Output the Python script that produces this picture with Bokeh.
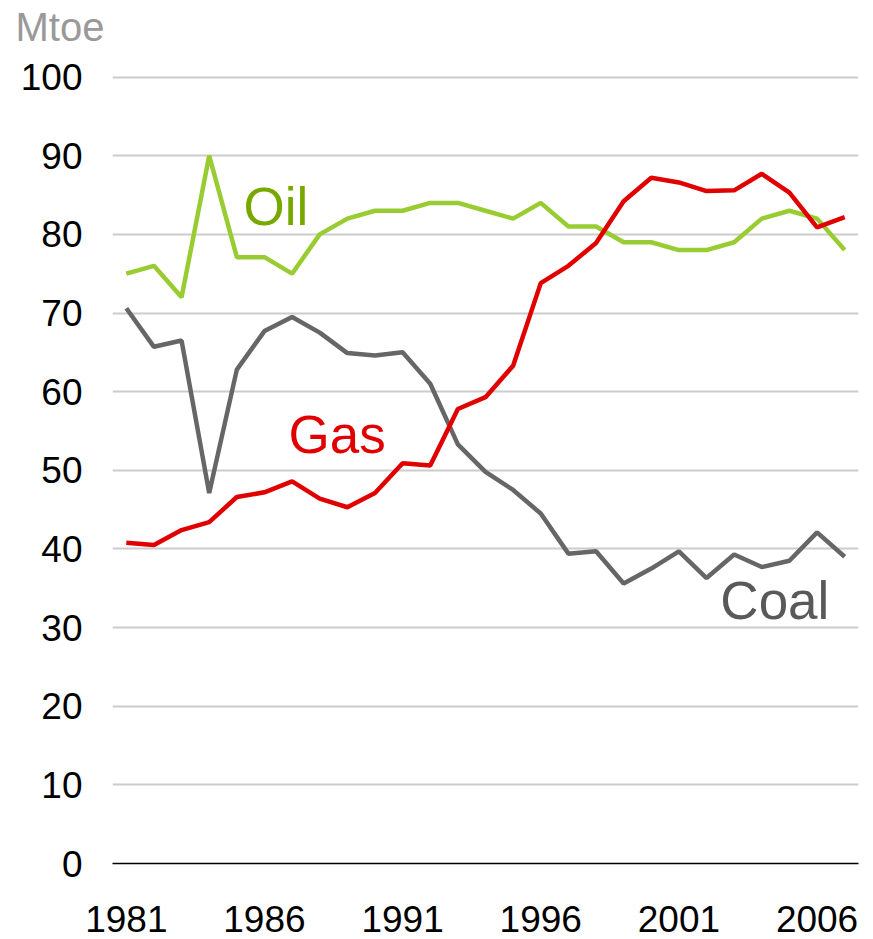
from bokeh.plotting import figure
from bokeh.models import FixedTicker, Label, Range1d, Title
from bokeh.embed import file_html
from bokeh.resources import INLINE

years = list(range(1981, 2008))
oil = [75, 76, 72, 90, 77.1, 77.1, 75, 80, 82, 83, 83, 84, 84, 83, 82, 84, 81, 81,
       79, 79, 78, 78, 79, 82, 83, 82, 78]
gas = [40.8, 40.5, 42.4, 43.4, 46.6, 47.2, 48.6, 46.4, 45.3, 47.1, 50.9, 50.6, 57.8,
       59.3, 63.3, 73.8, 76.0, 78.9, 84.2, 87.2, 86.6, 85.5, 85.6, 87.7, 85.3, 80.9, 82.2]
coal = [70.6, 65.7, 66.5, 47.1, 62.8, 67.7, 69.5, 67.5, 64.9, 64.6, 65.0, 61.0, 53.3,
        49.8, 47.5, 44.5, 39.4, 39.7, 35.6, 37.5, 39.7, 36.3, 39.3, 37.7, 38.5, 42.1, 39.0]
x_ticks = [1981, 1986, 1991, 1996, 2001, 2006]
y_ticks = list(range(0, 101, 10))
unit_label = "Mtoe"

FONT = "Liberation Sans"

p = figure(width=873, height=939, output_backend="svg", toolbar_location=None,
           x_range=Range1d(1980.5, 2007.5), y_range=Range1d(0, 100.2),
           min_border_left=112, min_border_right=15, min_border_top=75, min_border_bottom=76)
p.outline_line_color = None
p.background_fill_color = "white"
p.border_fill_color = "white"
p.title.text = ""

# spacer panel between the frame and the unit title
p.add_layout(Title(text=" ", text_font_size="10px", standoff=14), "above")
p.add_layout(Title(text=unit_label, align="left", vertical_align="bottom", offset=-97,
                   standoff=0, text_font=FONT, text_font_size="40px",
                   text_font_style="normal", text_color="#999999"), "above")

p.xgrid.grid_line_color = None
p.ygrid.grid_line_color = "#cccccc"
p.ygrid.grid_line_width = 2
p.ygrid.ticker = FixedTicker(ticks=y_ticks)

p.xaxis.ticker = FixedTicker(ticks=x_ticks)
p.xaxis.axis_line_color = "black"
p.xaxis.axis_line_width = 1.5
p.xaxis.major_tick_line_color = None
p.xaxis.minor_tick_line_color = None
p.xaxis.major_label_text_font = FONT
p.xaxis.major_label_text_font_size = "37px"
p.xaxis.major_label_text_color = "black"
p.xaxis.major_label_standoff = 36

p.yaxis.ticker = FixedTicker(ticks=y_ticks)
p.yaxis.axis_line_color = None
p.yaxis.major_tick_line_color = None
p.yaxis.minor_tick_line_color = None
p.yaxis.major_label_text_font = FONT
p.yaxis.major_label_text_font_size = "37px"
p.yaxis.major_label_text_color = "black"
p.yaxis.major_label_standoff = 24

p.line(years, oil, line_color="#99CC33", line_width=4.5)
p.line(years, coal, line_color="#666666", line_width=4.5)
p.line(years, gas, line_color="#E00000", line_width=4.5)

p.add_layout(Label(x=1985.24, y=83.5, text="Oil", text_font=FONT, text_font_size="53px",
                   text_color="#77A800", text_baseline="alphabetic"))
p.add_layout(Label(x=1986.87, y=54.6, text="Gas", text_font=FONT, text_font_size="53px",
                   text_color="#E00000", text_baseline="alphabetic"))
p.add_layout(Label(x=2002.5, y=33.5, text="Coal", text_font=FONT, text_font_size="53px",
                   text_color="#595959", text_baseline="alphabetic"))

open("out.html", "w").write(file_html(p, INLINE))
